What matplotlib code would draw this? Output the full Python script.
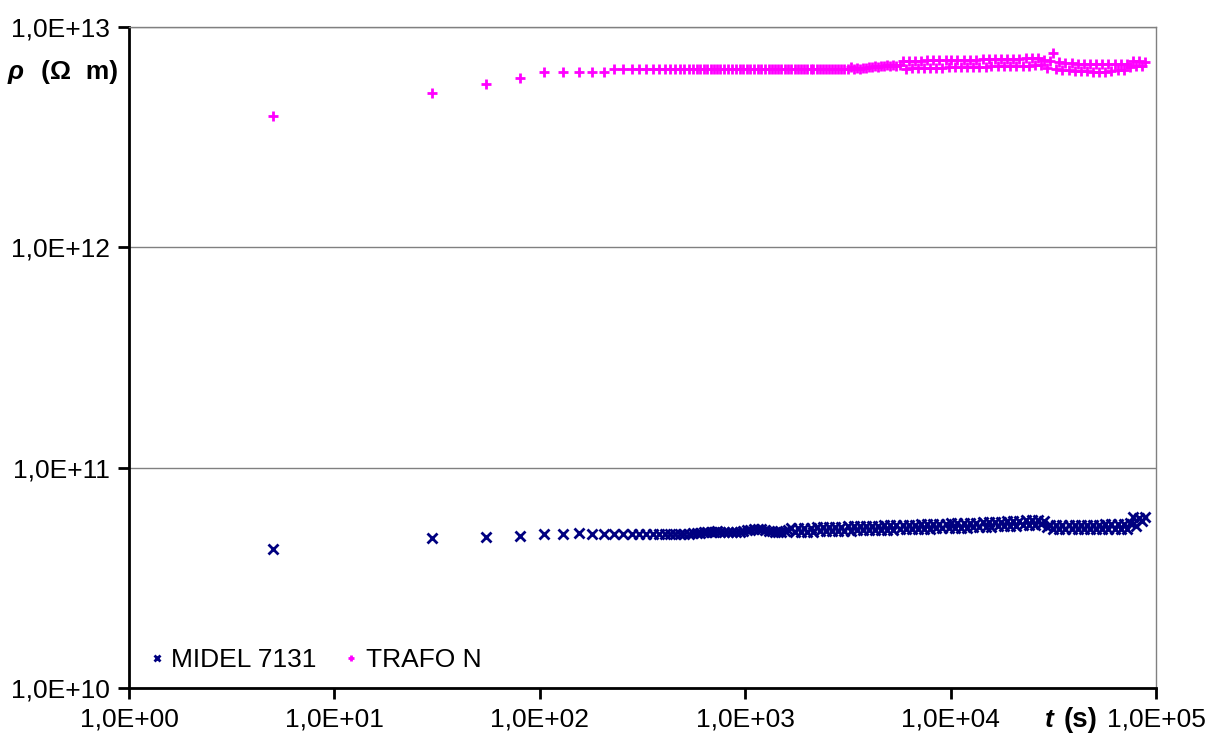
import matplotlib
matplotlib.use("Agg")
import matplotlib.pyplot as plt
import numpy as np
from matplotlib.ticker import FuncFormatter, LogLocator, NullLocator

plt.rcParams["font.family"] = ["Liberation Sans", "DejaVu Sans"]

T_S = [
    5, 30, 55, 80, 105, 130, 155, 180, 205, 230,
    255, 280, 305, 330, 355, 380, 405, 430, 455, 480,
    505, 530, 555, 580, 605, 630, 655, 680, 705, 730,
    755, 790, 825, 860, 900, 940, 980, 1020, 1060, 1100,
    1150, 1200, 1250, 1300, 1350, 1400, 1450, 1500, 1560, 1620,
    1680, 1740, 1800, 1870, 1940, 2010, 2080, 2150, 2230, 2310,
    2390, 2470, 2560, 2650, 2740, 2840, 2940, 3040, 3150, 3260,
    3370, 3490, 3610, 3740, 3870, 4000, 4140, 4290, 4440, 4590,
    4750, 4920, 5090, 5270, 5450, 5640, 5840, 6040, 6250, 6470,
    6700, 6930, 7170, 7420, 7680, 7950, 8230, 8520, 8820, 9130,
    9450, 9780, 10100, 10450, 10800, 11200, 11600, 12000, 12400, 12800,
    13300, 13800, 14300, 14800, 15300, 15800, 16400, 17000, 17600, 18200,
    18800, 19500, 20200, 20900, 21600, 22400, 23200, 24000, 24800, 25700,
    26600, 27500, 28500, 29500, 30500, 31600, 32700, 33800, 35000, 36200,
    37500, 38800, 40200, 41600, 43000, 44500, 46100, 47700, 49400, 51100,
    52900, 54800, 56700, 58700, 60700, 62900, 65100, 67300, 69700, 72200,
    74700, 77300, 80000, 82800, 85700, 88000,
]

# resistivity of MIDEL 7131, in units of 1e10 ohm m
MIDEL_E10 = [
    4.27, 4.79, 4.84, 4.88, 4.98, 5.01, 5.03, 5.01, 4.98, 4.98,
    4.98, 4.98, 4.98, 4.98, 4.98, 4.99, 4.99, 5.00, 5.00, 5.01,
    5.01, 5.02, 5.03, 5.04, 5.06, 5.08, 5.10, 5.12, 5.13, 5.14,
    5.12, 5.10, 5.08, 5.10, 5.08, 5.10, 5.14, 5.20, 5.24, 5.26,
    5.28, 5.27, 5.24, 5.18, 5.14, 5.12, 5.12, 5.13, 5.16, 5.20,
    5.32, 5.11, 5.33, 5.12, 5.34, 5.12, 5.35, 5.13, 5.36, 5.14,
    5.37, 5.15, 5.38, 5.16, 5.39, 5.16, 5.40, 5.17, 5.41, 5.18,
    5.42, 5.19, 5.43, 5.20, 5.44, 5.20, 5.45, 5.21, 5.46, 5.22,
    5.47, 5.23, 5.48, 5.24, 5.49, 5.25, 5.50, 5.25, 5.51, 5.26,
    5.52, 5.27, 5.53, 5.28, 5.54, 5.29, 5.55, 5.30, 5.56, 5.31,
    5.57, 5.32, 5.58, 5.33, 5.59, 5.34, 5.61, 5.35, 5.62, 5.36,
    5.63, 5.37, 5.64, 5.39, 5.66, 5.40, 5.67, 5.41, 5.68, 5.42,
    5.70, 5.44, 5.72, 5.46, 5.74, 5.48, 5.76, 5.50, 5.78, 5.51,
    5.80, 5.53, 5.70, 5.40, 5.52, 5.26, 5.50, 5.25, 5.49, 5.25,
    5.51, 5.25, 5.51, 5.25, 5.52, 5.26, 5.52, 5.26, 5.52, 5.26,
    5.52, 5.26, 5.53, 5.26, 5.53, 5.27, 5.53, 5.27, 5.54, 5.27,
    5.60, 5.96, 5.45, 5.90, 5.75, 5.95,
]

# resistivity of TRAFO N, in units of 1e12 ohm m
TRAFO_E12 = [
    3.94, 5.02, 5.49, 5.89, 6.27, 6.27, 6.27, 6.27, 6.27, 6.43,
    6.43, 6.43, 6.43, 6.43, 6.43, 6.43, 6.43, 6.43, 6.43, 6.43,
    6.43, 6.43, 6.43, 6.43, 6.43, 6.43, 6.43, 6.43, 6.43, 6.43,
    6.43, 6.43, 6.44, 6.42, 6.43, 6.44, 6.42, 6.43, 6.44, 6.42,
    6.43, 6.45, 6.42, 6.44, 6.43, 6.45, 6.42, 6.44, 6.43, 6.45,
    6.42, 6.44, 6.43, 6.45, 6.42, 6.44, 6.43, 6.45, 6.42, 6.44,
    6.43, 6.45, 6.42, 6.44, 6.43, 6.45, 6.42, 6.44, 6.47, 6.55,
    6.45, 6.52, 6.46, 6.54, 6.50, 6.58, 6.55, 6.62, 6.60, 6.66,
    6.62, 6.70, 6.64, 6.72, 6.65, 6.72, 7.01, 6.48, 7.02, 6.49,
    7.03, 6.50, 7.04, 6.51, 7.05, 6.52, 7.06, 6.53, 7.07, 6.54,
    7.08, 6.55, 7.09, 6.56, 7.10, 6.57, 7.11, 6.58, 7.12, 6.59,
    7.12, 6.60, 7.13, 6.61, 7.14, 6.62, 7.15, 6.63, 7.16, 6.64,
    7.17, 6.65, 7.18, 6.66, 7.19, 6.67, 7.20, 6.68, 7.21, 6.69,
    7.22, 6.70, 7.10, 6.50, 6.98, 7.64, 6.44, 6.93, 6.40, 6.88,
    6.36, 6.85, 6.33, 6.82, 6.31, 6.79, 6.29, 6.77, 6.28, 6.76,
    6.27, 6.76, 6.27, 6.76, 6.30, 6.77, 6.35, 6.78, 6.40, 6.80,
    6.55, 7.00, 6.65, 7.02, 6.66, 6.95,
]

LABELS = ["MIDEL 7131", "TRAFO N"]
X_LIM = (1, 1e5)
Y_LIM = (1e10, 1e13)

W, H = 1210, 743
FS = 19


def excel_sci(v, pos):
    exp = int(round(np.log10(v)))
    return f"1,0E{exp:+03d}"


fig = plt.figure(figsize=(W / 100, H / 100), dpi=100)
ax = fig.add_axes([129 / W, 1 - 688 / H, (1156 - 129) / W, (688 - 27) / H])
ax.set_xscale("log")
ax.set_yscale("log")

midel = [v * 1e10 for v in MIDEL_E10]
trafo = [v * 1e12 for v in TRAFO_E12]
ax.plot(T_S, midel, ls="none", marker="x", ms=7.5, mew=2.0, color="#000080", label=LABELS[0])
ax.plot(T_S, trafo, ls="none", marker="+", ms=7.5, mew=2.0, color="#FF00FF", label=LABELS[1])

ax.set_xlim(*X_LIM)
ax.set_ylim(*Y_LIM)
for axis in (ax.xaxis, ax.yaxis):
    axis.set_major_locator(LogLocator(base=10, numticks=10))
    axis.set_minor_locator(NullLocator())
    axis.set_major_formatter(FuncFormatter(excel_sci))
ax.tick_params(which="major", direction="out", length=8, width=2, color="black",
               labelsize=FS, pad=6)
ax.yaxis.grid(True, color="#808080", lw=1)
ax.set_axisbelow(True)
for side in ("left", "bottom"):
    ax.spines[side].set_color("black")
    ax.spines[side].set_linewidth(2)
for side in ("top", "right"):
    ax.spines[side].set_color("#808080")
    ax.spines[side].set_linewidth(1)

ax.legend(loc="lower left", bbox_to_anchor=(0.004, 0.0), frameon=False, ncol=2,
          fontsize=FS, markerscale=0.65, handlelength=0.6, handletextpad=0.25,
          columnspacing=1.0, borderaxespad=0.2)

# axis titles, placed like the spreadsheet original
fig.text(8 / W, 1 - 72 / H, "ρ", fontsize=FS, fontweight="bold", fontstyle="italic",
         ha="left", va="center")
fig.text(41 / W, 1 - 72 / H, "(Ω  m)", fontsize=FS, fontweight="bold",
         ha="left", va="center")
fig.text(1045 / W, 1 - 720 / H, "t", fontsize=FS, fontweight="bold", fontstyle="italic",
         ha="left", va="center")
fig.text(1064 / W, 1 - 720 / H, "(s)", fontsize=FS + 1, fontweight="bold",
         ha="left", va="center")

fig.savefig("out.png", dpi=100)
